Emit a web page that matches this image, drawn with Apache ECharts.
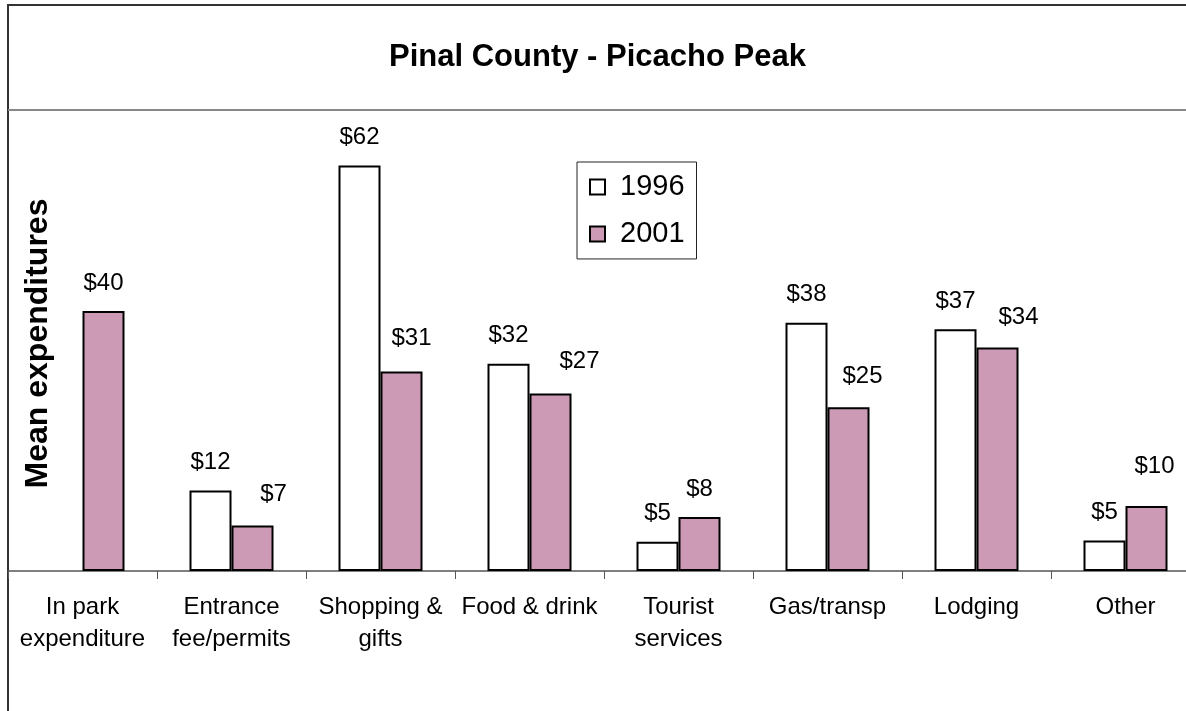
<!DOCTYPE HTML>
<html>
<head>
    <title>Pinal County - Picacho Peak</title>
    <script src="https://cdn.jsdelivr.net/npm/echarts@6.0.0/dist/echarts.min.js"></script>
    <style>
        html, body { margin: 0; padding: 0; background: #fff; }
        #main { width: 1186px; height: 711px; }
    </style>
</head>
<body>
<div id="main"></div>
<script type="text/javascript">

    // categories along the x axis (Excel wrapped them onto two lines)
    var categories = ['In park\nexpenditure', 'Entrance\nfee/permits', 'Shopping &\ngifts', 'Food & drink',
                      'Tourist\nservices', 'Gas/transp', 'Lodging', 'Other'];

    // mean expenditures
    var values1996 = [null, 12.4, 62.4, 31.9, 4.5, 38.2, 37.2, 4.7];
    var values2001 = [40.0, 7.0, 30.7, 27.3, 8.3, 25.2, 34.4, 10.0];

    var seriesNames = ['1996', '2001'];

    var font = 'Arial, "Liberation Sans", sans-serif';

    // the 2001 labels sit a bit right / higher than centered in the original
    var shift2001 = [[0, 0], [21, -3], [10, -5], [29, -4], [0, 0], [14, -3], [21, -2], [8, -12]];

    function money(p) {
        return '$' + Math.round(p.value);
    }

    var labelStyle = {
        show: true,
        position: 'top',
        distance: 16,
        formatter: money,
        color: '#000',
        fontFamily: font,
        fontSize: 24,
        lineHeight: 24
    };

    var data2001 = [];
    for (var i = 0; i < values2001.length; i++) {
        data2001.push({
            value: values2001[i],
            label: { offset: shift2001[i] }
        });
    }

    var chartDom = document.getElementById('main');
    var myChart = echarts.init(chartDom);

    var option = {
        animation: false,
        backgroundColor: '#fff',
        title: {
            text: 'Pinal County - Picacho Peak',
            left: 384,
            top: 26,
            textStyle: {
                fontFamily: font,
                fontWeight: 'bold',
                fontSize: 31,
                color: '#000'
            }
        },
        graphic: [
            {
                type: 'rect',
                shape: { x: 8, y: 5, width: 1200, height: 720 },
                style: { fill: null, stroke: '#333', lineWidth: 2 },
                silent: true
            },
            {
                type: 'line',
                shape: { x1: 8, y1: 110, x2: 1200, y2: 110 },
                style: { stroke: '#888', lineWidth: 2 },
                silent: true
            }
        ],
        legend: {
            orient: 'vertical',
            left: 577,
            top: 162,
            padding: [0, 12, 0, 12],
            itemWidth: 15,
            itemHeight: 15,
            itemGap: -3,
            borderColor: '#222',
            borderWidth: 1,
            icon: 'rect',
            textStyle: {
                fontFamily: font,
                fontSize: 29,
                lineHeight: 30,
                color: '#000',
                padding: [0, 0, 0, 10]
            },
            data: seriesNames
        },
        grid: {
            left: 8,
            right: -14,
            top: 116,
            bottom: 140,
            containLabel: false,
            outerBoundsMode: 'none'
        },
        xAxis: {
            type: 'category',
            data: categories,
            axisLine: { lineStyle: { color: '#555', width: 1.5 } },
            axisTick: { show: true, length: 8, lineStyle: { color: '#555' } },
            axisLabel: {
                interval: 0,
                margin: 20,
                fontFamily: font,
                fontSize: 24,
                lineHeight: 32,
                color: '#000',
                verticalAlign: 'top'
            }
        },
        yAxis: {
            type: 'value',
            min: 0,
            max: 70,
            name: 'Mean expenditures',
            nameLocation: 'middle',
            nameRotate: 90,
            nameGap: -58,
            nameTextStyle: {
                fontFamily: font,
                fontWeight: 'bold',
                fontSize: 32,
                color: '#000'
            },
            axisLine: { show: false },
            axisTick: { show: false },
            axisLabel: { show: false },
            splitLine: { show: false }
        },
        series: [
            {
                name: seriesNames[0],
                type: 'bar',
                data: values1996,
                barWidth: 42,
                barGap: '0%',
                itemStyle: { color: '#ffffff', borderColor: '#000', borderWidth: 2 },
                label: labelStyle
            },
            {
                name: seriesNames[1],
                type: 'bar',
                data: data2001,
                barWidth: 42,
                barGap: '0%',
                itemStyle: { color: '#cc9ab4', borderColor: '#000', borderWidth: 2 },
                label: labelStyle
            }
        ]
    };

    myChart.setOption(option);

</script>
</body>
</html>
